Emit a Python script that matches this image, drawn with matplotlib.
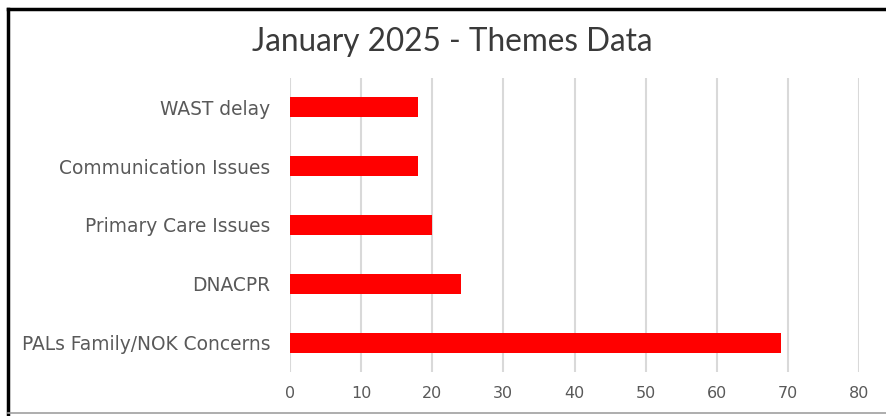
import matplotlib
matplotlib.use("Agg")
import matplotlib.pyplot as plt
from matplotlib.lines import Line2D

plt.rcParams["font.family"] = ["DejaVu Sans"]

categories = ["PALs Family/NOK Concerns", "DNACPR", "Primary Care Issues",
              "Communication Issues", "WAST delay"]
values = [69, 24, 20, 18, 18]
xticks = [0, 10, 20, 30, 40, 50, 60, 70, 80]
title = "January 2025 - Themes Data"

W, H = 886, 416
fig = plt.figure(figsize=(W / 100, H / 100), dpi=100)
fig.patch.set_facecolor("white")
ax = fig.add_axes([290 / W, 1 - 372 / H, (859 - 290) / W, (372 - 78) / H])

ax.barh(range(len(categories)), values, height=0.34, color="#ff0000", zorder=3)
ax.set_yticks(range(len(categories)))
ax.set_yticklabels(categories, fontsize=13.4, color="#595959")
ax.set_ylim(-0.5, len(categories) - 0.5)
ax.set_xlim(0, 80)
ax.set_xticks(xticks)
ax.set_xticklabels([str(t) for t in xticks], fontsize=11.5, color="#595959")
ax.grid(axis="x", color="#d9d9d9", linewidth=1.5, zorder=0)
for s in ax.spines.values():
    s.set_visible(False)
ax.tick_params(axis="both", length=0)
ax.tick_params(axis="y", pad=14)
ax.tick_params(axis="x", pad=10)

fig.text(452 / W, 1 - 42 / H, title, ha="center", va="center",
         fontsize=22.7, color="#3a3a3a", family="Lato")

# outer frame lines
fig.add_artist(Line2D([8 / W, 1], [1 - 9 / H, 1 - 9 / H], color="black", linewidth=2.5,
                      transform=fig.transFigure))
fig.add_artist(Line2D([8 / W, 8 / W], [0, 1 - 9 / H], color="black", linewidth=2.5,
                      transform=fig.transFigure))
fig.add_artist(Line2D([8 / W, 1], [1 - 413 / H, 1 - 413 / H], color="#a0a0a0", linewidth=1.2,
                      transform=fig.transFigure))

fig.savefig("out.png", dpi=100)
